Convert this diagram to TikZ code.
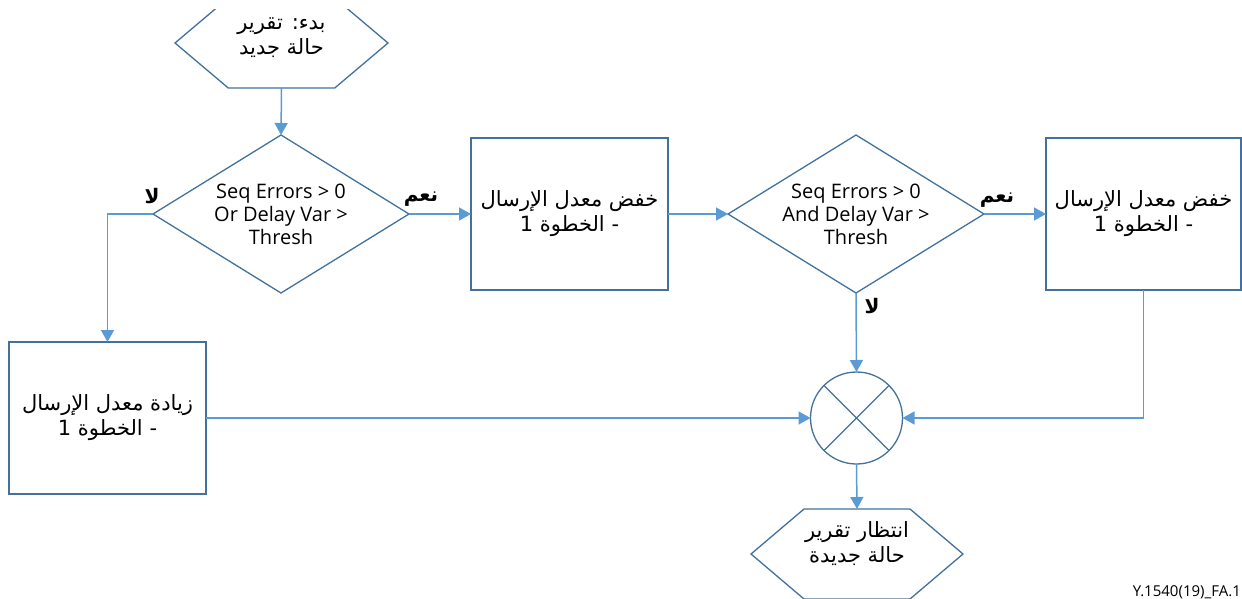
\documentclass[tikz,border=0pt]{standalone}
\usepackage{fontspec}
\setmainfont{Open Sans}
\newfontfamily\arabicfont[Script=Arabic]{DejaVu Sans}
\TeXXeTstate=1
\usetikzlibrary{shapes.geometric,arrows.meta,calc}
\definecolor{edgeblue}{RGB}{65,113,156}
\definecolor{linkblue}{RGB}{91,155,213}

\begin{document}
\begin{tikzpicture}[x=1pt,y=-1pt,
  outline/.style={draw=edgeblue,line width=1.3pt},
  stepbox/.style={outline,fill=white,rectangle,minimum width=197pt,minimum height=152pt,inner sep=0pt,outer sep=0pt},
  decision/.style={outline,diamond,minimum width=256pt,minimum height=158pt,inner sep=0pt,outer sep=0pt},
  merge/.style={outline,circle,minimum size=92pt,inner sep=0pt,outer sep=0pt},
  hexframe/.style={rectangle,minimum width=213pt,minimum height=90pt,inner sep=0pt,outer sep=0pt},
  link/.style={draw=linkblue,line width=1.5pt,-{Triangle[length=12pt,width=13pt]}},
  ar/.style={font=\arabicfont\fontsize{21}{25}\selectfont,align=center,inner sep=0pt},
  en/.style={font=\fontsize{20}{23}\selectfont,align=center,inner sep=0pt},
  tag/.style={font=\arabicfont\bfseries\fontsize{20}{22}\selectfont,inner sep=0pt}]

\useasboundingbox (0,0) rectangle (1242,599);

% start terminal (hexagon, cut off at the top)
\node[hexframe] (hs) at (281.5,43) {};
\begin{scope}
  \clip (0,10) rectangle (1242,599);
  \draw[outline,fill=white] (hs.west)
    -- ($(hs.north west)!0.25!(hs.north east)$)
    -- ($(hs.north west)!0.75!(hs.north east)$)
    -- (hs.east)
    -- ($(hs.south west)!0.75!(hs.south east)$)
    -- ($(hs.south west)!0.25!(hs.south east)$) -- cycle;
\end{scope}
\node[ar] (hst) at (281.5,38) {\beginR بدء: تقرير\endR\\\beginR حالة جديد\endR};

% decisions
\node[decision] (d1) at (281,214) {};
\node[en] (d1t) at (281,214) {Seq Errors > 0\\Or Delay Var >\\Thresh};
\node[decision] (d2) at (856,214) {};
\node[en] (d2t) at (856,214) {Seq Errors > 0\\And Delay Var >\\Thresh};

% rate steps
\node[stepbox] (b1) at (569.5,214) {};
\node[ar] (b1t) at (b1) {\beginR خفض معدل الإرسال\endR\\\beginR - الخطوة 1\endR};
\node[stepbox,minimum width=195pt] (b2) at (1143.5,214) {};
\node[ar] (b2t) at (b2) {\beginR خفض معدل الإرسال\endR\\\beginR - الخطوة 1\endR};
\node[stepbox] (b3) at (107.5,418) {};
\node[ar] (b3t) at (b3) {\beginR زيادة معدل الإرسال\endR\\\beginR - الخطوة 1\endR};

% merge point
\node[merge] (mx) at (856.5,418) {};
\draw[outline] (mx.north west) -- (mx.south east);
\draw[outline] (mx.north east) -- (mx.south west);

% end terminal (hexagon, cut off at the bottom)
\node[hexframe,minimum width=212pt] (he) at (857,554) {};
\draw[outline,fill=white] (he.west)
  -- ($(he.north west)!0.25!(he.north east)$)
  -- ($(he.north west)!0.75!(he.north east)$)
  -- (he.east)
  -- ($(he.south west)!0.75!(he.south east)$)
  -- ($(he.south west)!0.25!(he.south east)$) -- cycle;
\node[ar] (het) at (857,544) {\beginR انتظار تقرير\endR\\\beginR حالة جديدة\endR};

% connectors
\draw[link] (hs.south) -- (d1.north);
\draw[link] (d1.east) -- (b1.west);
\draw[link] (b1.east) -- (d2.west);
\draw[link] (d2.east) -- (b2.west);
\draw[link] (d1.west) -| (b3.north);
\draw[link] (d2.south) -- (mx.north);
\draw[link] (b3.east) -- (mx.west);
\draw[link] (b2.south) |- (mx.east);
\draw[link] (mx.south) -- (he.north);

% branch labels
\node[tag] (no1) at (152,196) {\beginR لا\endR};
\node[tag] (yes1) at (421,199) {\beginR نعم\endR};
\node[tag] (yes2) at (997,200) {\beginR نعم\endR};
\node[tag] (no2) at (872,306) {\beginR لا\endR};

% figure reference
\node[font=\fontsize{15}{17}\selectfont,anchor=east,inner sep=0pt] (fig) at (1241,592) {Y.1540(19)\_FA.1};
\end{tikzpicture}
\end{document}
